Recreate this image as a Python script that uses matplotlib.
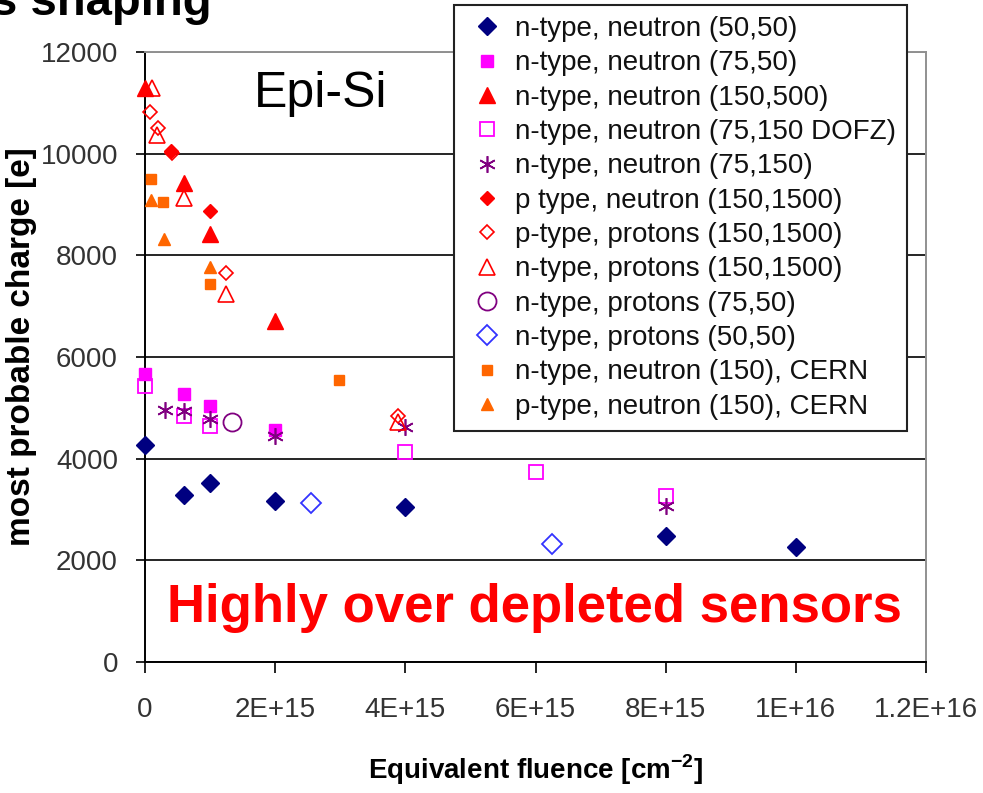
import matplotlib
matplotlib.use("Agg")
import matplotlib.pyplot as plt

plt.rcParams["font.family"] = ["Liberation Sans", "DejaVu Sans"]

# fluence values in units of 1e15 cm^-2, charge in electrons
E15 = 1e15

nn_50_50_x = [0, 0.6, 1, 2, 4, 8, 10]
nn_50_50_y = [4270, 3280, 3530, 3175, 3057, 2470, 2254]

nn_75_50_x = [0, 0.6, 1, 2]
nn_75_50_y = [5660, 5270, 5040, 4570]

nn_150_500_x = [0, 0.6, 1, 2]
nn_150_500_y = [11290, 9430, 8410, 6700]

nn_dofz_x = [0, 0.6, 1, 4, 6, 8]
nn_dofz_y = [5430, 4840, 4650, 4130, 3740, 3270]

nn_75_150_x = [0.3, 0.6, 1, 2, 4, 8]
nn_75_150_y = [4960, 4940, 4780, 4450, 4630, 3060]

pn_150_1500_x = [0.4, 1]
pn_150_1500_y = [10060, 8880]

pp_150_1500_x = [0.08, 0.2, 0.41, 1.25, 3.88]
pp_150_1500_y = [10820, 10510, 10010, 7650, 4840]

np_150_1500_x = [0.1, 0.18, 0.6, 1.25, 3.88]
np_150_1500_y = [11290, 10370, 9130, 7230, 4720]

np_75_50_x = [1.34]
np_75_50_y = [4720]

np_50_50_x = [2.55, 6.26]
np_50_50_y = [3136, 2313]

nn_cern_x = [0.09, 0.28, 1, 2.98]
nn_cern_y = [9500, 9050, 7430, 5550]

pn_cern_x = [0.09, 0.29, 1]
pn_cern_y = [9090, 8330, 7780]

x_ticks = [0, 2e15, 4e15, 6e15, 8e15, 1e16, 1.2e16]
x_tick_labels = ["0", "2E+15", "4E+15", "6E+15", "8E+15", "1E+16", "1.2E+16"]
y_ticks = [0, 2000, 4000, 6000, 8000, 10000, 12000]

W, H = 983, 793
fig = plt.figure(figsize=(W / 100, H / 100), dpi=100)
ax = fig.add_axes([145 / W, (H - 662) / H, (926 - 145) / W, (662 - 52) / H])

series = [
    (nn_50_50_x, nn_50_50_y, "n-type, neutron (50,50)",
     dict(marker="D", ms=9.5, color="#000080", mec="#000080")),
    (nn_75_50_x, nn_75_50_y, "n-type, neutron (75,50)",
     dict(marker="s", ms=8, color="#FF00FF", mec="#FF00FF")),
    (nn_150_500_x, nn_150_500_y, "n-type, neutron (150,500)",
     dict(marker="^", ms=11.5, color="#FF0000", mec="#FF0000")),
    (nn_dofz_x, nn_dofz_y, "n-type, neutron (75,150 DOFZ)",
     dict(marker="s", ms=10, mfc="none", mec="#FF00FF", mew=1.3)),
    (nn_75_150_x, nn_75_150_y, "n-type, neutron (75,150)",
     dict(marker=(6, 2, 0), ms=12, color="#800080", mew=1.2)),
    (pn_150_1500_x, pn_150_1500_y, "p type, neutron (150,1500)",
     dict(marker="D", ms=7.5, color="#FF0000", mec="#FF0000")),
    (pp_150_1500_x, pp_150_1500_y, "p-type, protons (150,1500)",
     dict(marker="D", ms=7.5, mfc="none", mec="#FF0000", mew=1.2)),
    (np_150_1500_x, np_150_1500_y, "n-type, protons (150,1500)",
     dict(marker="^", ms=11, mfc="none", mec="#FF0000", mew=1.2)),
    (np_75_50_x, np_75_50_y, "n-type, protons (75,50)",
     dict(marker="o", ms=13, mfc="none", mec="#800080", mew=1.3)),
    (np_50_50_x, np_50_50_y, "n-type, protons (50,50)",
     dict(marker="D", ms=10, mfc="none", mec="#3333FF", mew=1.3)),
    (nn_cern_x, nn_cern_y, "n-type, neutron (150), CERN",
     dict(marker="s", ms=7, color="#FF6600", mec="#FF6600")),
    (pn_cern_x, pn_cern_y, "p-type, neutron (150), CERN",
     dict(marker="^", ms=8.5, color="#FF6600", mec="#FF6600")),
]

for xs, ys, label, style in series:
    ax.plot([v * E15 for v in xs], ys, linestyle="none", label=label,
            clip_on=False, zorder=3, **style)

ax.set_xlim(0, 1.2e16)
ax.set_ylim(0, 12000)
ax.set_xticks(x_ticks)
ax.set_xticklabels(x_tick_labels)
ax.set_yticks(y_ticks)

ax.set_axisbelow(True)
ax.yaxis.grid(True, color="black", linewidth=1.2)
ax.get_ygridlines()[-1].set_color("#909090")

for side in ("left", "bottom"):
    ax.spines[side].set_color("black")
    ax.spines[side].set_linewidth(1.4)
for side in ("top", "right"):
    ax.spines[side].set_color("#909090")
    ax.spines[side].set_linewidth(1.4)

ax.tick_params(axis="y", direction="out", length=6.5, width=1.2, pad=13,
               labelsize=20, labelcolor="#333333")
ax.tick_params(axis="x", direction="out", length=8, width=1.2, pad=17,
               labelsize=20, labelcolor="#333333")

leg = ax.legend(loc="upper left", bbox_to_anchor=(454 / W, 1 - 5 / H),
                bbox_transform=fig.transFigure, borderaxespad=0,
                fontsize=20, labelspacing=0.3, borderpad=0.4,
                handlelength=1.6, handletextpad=0.2, numpoints=1,
                fancybox=False, framealpha=1, edgecolor="#222222")
leg.get_frame().set_linewidth(1.5)
for t in leg.get_texts():
    t.set_color("#111111")

fig.text(321 / W, (H - 107) / H, "Epi-Si", fontsize=36, ha="center",
         va="baseline")
fig.text(534 / W, (H - 622) / H, "Highly over depleted sensors",
         color="#FF0000", fontsize=38, fontweight="bold", ha="center",
         va="baseline")

fig.text(-9 / W, (H - 15) / H, "s shaping", fontsize=34, fontweight="bold",
         ha="left", va="baseline")
fig.text(22 / W, (H - 347) / H, "most probable charge [e]", fontsize=24,
         fontweight="bold", rotation=90, ha="center", va="center")
fig.text(536 / W, (H - 779) / H, r"Equivalent fluence [cm$^{\mathregular{-2}}$]",
         fontsize=20, fontweight="bold", ha="center", va="baseline")

fig.savefig("out.png", dpi=100)
